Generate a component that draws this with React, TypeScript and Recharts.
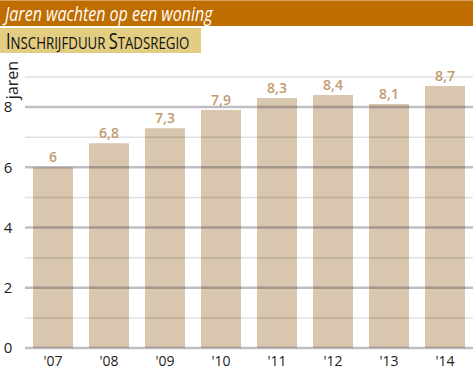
import { BarChart, Bar, XAxis, YAxis, ReferenceLine, LabelList } from 'recharts';

const years = ["'07", "'08", "'09", "'10", "'11", "'12", "'13", "'14"];
const waitYears = [6, 6.8, 7.3, 7.9, 8.3, 8.4, 8.1, 8.7];
const yTicks = [0, 2, 4, 6, 8];
const minorLines = [1, 3, 5, 7, 9];

const data = years.map((y, i) => ({ year: y, value: waitYears[i] }));

const fmt = (v: any) => String(v).replace('.', ',');

// small caps done by hand: first letter big, rest smaller uppercase
const SmallCaps = ({ word }: { word: string }) => (
  <span>
    <span style={{ fontSize: 21 }}>{word[0]}</span>
    <span style={{ fontSize: 17 }}>{word.slice(1).toUpperCase()}</span>
  </span>
);

export default function App() {
  return (
    <div style={{ position: 'fixed', left: 0, top: 0, width: 473, height: 375, background: '#fff', overflow: 'hidden' }}>
      <BarChart width={473} height={375} data={data} margin={{ top: 77, right: 0, bottom: 0, left: 0 }} barCategoryGap={8}>
        <XAxis
          dataKey="year"
          axisLine={false}
          tickLine={false}
          height={27}
          tick={{ fill: '#222', fontSize: 14, fontFamily: 'Open Sans' }}
          tickMargin={2}
        />
        <YAxis
          domain={[0, 9]}
          ticks={yTicks}
          width={25}
          axisLine={false}
          tickLine={false}
          tick={{ fill: '#222', fontSize: 15, fontFamily: 'Open Sans', textAnchor: 'middle', dx: -9 }}
        />
        <Bar dataKey="value" fill="#d8c6ae" isAnimationActive={false}>
          <LabelList
            dataKey="value"
            position="top"
            offset={5}
            formatter={fmt}
            style={{ fill: '#c29a6e', fontSize: 14, fontWeight: 600, fontFamily: 'Open Sans' }}
          />
        </Bar>
        {minorLines.map((v) => (
          <ReferenceLine key={'m' + v} y={v} stroke="rgba(0,0,0,0.12)" strokeWidth={1.5} />
        ))}
        {yTicks.map((v) => (
          <ReferenceLine key={'M' + v} y={v} stroke="rgba(40,40,60,0.3)" strokeWidth={2.5} />
        ))}
      </BarChart>
      <div style={{ position: 'absolute', left: 0, top: 0, width: 473, height: 26, background: '#c06d00', borderTop: '1px solid #d9a060', boxSizing: 'border-box' }}>
        <span style={{ position: 'absolute', left: 5, top: -1, color: '#fff', fontFamily: 'Open Sans', fontStyle: 'italic', fontSize: 20, whiteSpace: 'nowrap', transform: 'scaleX(0.8)', transformOrigin: 'left center' }}>
          Jaren wachten op een woning
        </span>
      </div>
      <div style={{ position: 'absolute', left: 0, top: 28, width: 201, height: 25, background: '#e3cd83' }}>
        <span style={{ position: 'absolute', left: 6, top: -1, color: '#111', fontFamily: 'Open Sans', whiteSpace: 'nowrap', transform: 'scaleX(0.78)', transformOrigin: 'left center' }}>
          <SmallCaps word="Inschrijfduur" /> <SmallCaps word="Stadsregio" />
        </span>
      </div>
      <div style={{ position: 'absolute', left: -11, top: 71, width: 46, height: 18, transform: 'rotate(-90deg)', transformOrigin: 'center', fontFamily: 'Open Sans', fontSize: 16, color: '#222', textAlign: 'center', lineHeight: '18px' }}>
        jaren
      </div>
    </div>
  );
}
